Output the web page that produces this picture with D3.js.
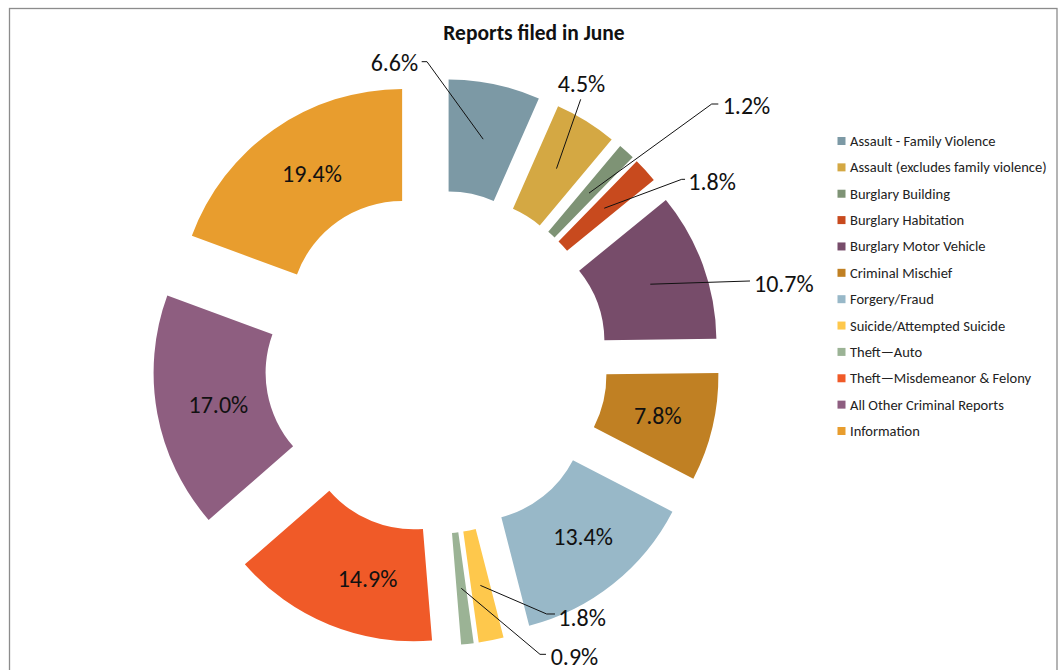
<!DOCTYPE html>
<html>
<head>
<meta charset="utf-8">
<script src="https://cdn.jsdelivr.net/npm/d3@7"></script>
<style>
  body { margin: 0; background: #fff; }
  svg { display: block; font-family: Calibri, Carlito, Lato, sans-serif; }
</style>
</head>
<body>
<script>
const CATEGORIES = [
  "Assault - Family Violence",
  "Assault (excludes family violence)",
  "Burglary Building",
  "Burglary Habitation",
  "Burglary Motor Vehicle",
  "Criminal Mischief",
  "Forgery/Fraud",
  "Suicide/Attempted Suicide",
  "Theft\u2014Auto",
  "Theft\u2014Misdemeanor & Felony",
  "All Other Criminal Reports",
  "Information"
];

const SHARES = [6.6, 4.5, 1.2, 1.8, 10.7, 7.8, 13.4, 1.8, 0.9, 14.9, 17.0, 19.4];

const COLORS = [
  "#7c99a5", "#d4a843", "#7e9375", "#c84a1e", "#774c6a", "#c08023",
  "#98b8c8", "#fec84c", "#9bb395", "#f05a28", "#8e5e80", "#e89d2e"
];

// label placement relative to each slice centroid (as dragged in the original)
// [textDx, textDy, anchor, elbowDx, elbowDy, tickDx]  (null elbow = inside label)
const LABEL_LAYOUT = [
  [-65, -76.5, "end", -56.2, -77.5, -61.5],
  [25, -85, "middle", 24.2, -69.3, 24.2],
  [133.7, -88.1, "start", 122.7, -89.1, 129.3],
  [84.1, -26.5, "start", 77.5, -28.9, 80.8],
  [103.7, -0.9, "start", 99.7, -3.2, 99.7],
  [0, 1, "middle", null],
  [5, -3.5, "middle", null],
  [77.9, 32.3, "start", 66.3, 28.6, 74.6],
  [89.4, 68.4, "start", 78.7, 66, 84.7],
  [17, 5.4, "middle", null],
  [6, 1.7, "middle", null],
  [6, -1.8, "middle", null]
];

const width = 1061,
  height = 670,
  center = { x: 436.3, y: 362 },
  outerR = 224,
  innerR = 112,
  explode = 59.7;

const svg = d3
  .select("body")
  .append("svg")
  .attr("width", width)
  .attr("height", height);

svg
  .append("rect")
  .attr("x", 9.5)
  .attr("y", 8.5)
  .attr("width", 1047.5)
  .attr("height", 700)
  .attr("fill", "none")
  .attr("stroke", "#8c8c8c")
  .attr("stroke-width", 1.3);

svg
  .append("text")
  .attr("x", 534)
  .attr("y", 32.5)
  .attr("text-anchor", "middle")
  .attr("dominant-baseline", "central")
  .attr("font-size", 21.5)
  .attr("font-weight", "bold")
  .attr("fill", "#111")
  .text("Reports filed in June");

const data = CATEGORIES.map((name, i) => ({ name, value: SHARES[i], color: COLORS[i], layout: LABEL_LAYOUT[i] }));

const pie = d3.pie().sort(null).value(d => d.value);
const arc = d3.arc().innerRadius(innerR).outerRadius(outerR);

const arcs = pie(data).map(a => {
  const mid = (a.startAngle + a.endAngle) / 2;
  a.ox = center.x + explode * Math.sin(mid);
  a.oy = center.y - explode * Math.cos(mid);
  const c = arc.centroid(a);
  a.cx = a.ox + c[0];
  a.cy = a.oy + c[1];
  return a;
});

svg
  .append("g")
  .selectAll("path")
  .data(arcs)
  .join("path")
  .attr("transform", d => `translate(${d.ox},${d.oy})`)
  .attr("d", arc)
  .attr("fill", d => d.data.color);

const labels = svg.append("g");

arcs.forEach(d => {
  const L = d.data.layout;
  if (L[3] !== null) {
    const pts = [
      [d.cx, d.cy],
      [d.cx + L[3], d.cy + L[4]],
      [d.cx + L[5], d.cy + L[4]]
    ];
    labels
      .append("path")
      .attr("d", d3.line()(pts))
      .attr("fill", "none")
      .attr("stroke", "#111")
      .attr("stroke-width", 1);
  }
  labels
    .append("text")
    .attr("x", d.cx + L[0])
    .attr("y", d.cy + L[1])
    .attr("text-anchor", L[2])
    .attr("dominant-baseline", "central")
    .attr("font-size", 24)
    .attr("fill", "#111")
    .text(d.data.value.toFixed(1) + "%");
});

const legend = svg
  .append("g")
  .attr("transform", "translate(837.5, 141)");

const legendY = d3
  .scalePoint()
  .domain(CATEGORIES)
  .range([0, 290]);

const rows = legend
  .selectAll("g")
  .data(data)
  .join("g")
  .attr("transform", d => `translate(0, ${legendY(d.name)})`);

rows
  .append("rect")
  .attr("x", 0)
  .attr("y", -4)
  .attr("width", 8)
  .attr("height", 8)
  .attr("fill", d => d.color);

rows
  .append("text")
  .attr("x", 12.5)
  .attr("y", 0)
  .attr("dominant-baseline", "central")
  .attr("font-size", 14.5)
  .attr("fill", "#222")
  .text(d => d.name);
</script>
</body>
</html>
